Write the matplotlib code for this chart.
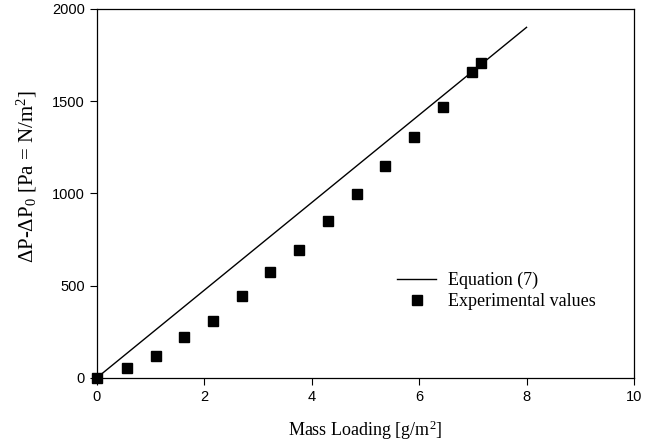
import matplotlib
matplotlib.use("Agg")
import matplotlib.pyplot as plt

plt.rcParams['font.family'] = 'sans-serif'
plt.rcParams['font.sans-serif'] = ['Liberation Sans', 'Arial', 'DejaVu Sans']
plt.rcParams['mathtext.default'] = 'regular'

mass_loading = [0.0, 0.56, 1.10, 1.62, 2.16, 2.70, 3.22, 3.76, 4.30, 4.84, 5.36, 5.90, 6.44, 6.98, 7.15]
delta_p = [0, 54, 119, 222, 308, 443, 573, 692, 849, 995, 1151, 1308, 1470, 1659, 1708]

# Equation (7) line
eq_x = [0.0, 8.0]
eq_y = [0, 1900]

x_ticks = [0, 2, 4, 6, 8, 10]
y_ticks = [0, 500, 1000, 1500, 2000]

fig = plt.figure(figsize=(6.59, 4.45), dpi=100)
ax = fig.add_axes([0.147, 0.151, 0.815, 0.829])

ax.plot(eq_x, eq_y, color="black", linewidth=1.0, label="Equation (7)")
ax.plot(mass_loading, delta_p, linestyle="none", marker="s", markersize=7,
        color="black", label="Experimental values", clip_on=False, zorder=5)

ax.set_xlim(0, 10)
ax.set_ylim(0, 2000)
ax.set_xticks(x_ticks)
ax.set_yticks(y_ticks)
ax.tick_params(direction="out", length=5, width=0.8, labelsize=10.5, top=False, right=False)
for sp in ax.spines.values():
    sp.set_linewidth(0.9)

ax.set_xlabel("Mass Loading [g/m$^2$]", family='Liberation Serif', size=13, labelpad=11)
ax.set_ylabel("ΔP-ΔP$_0$ [Pa = N/m$^2$]", family='Liberation Serif', size=15)
ax.yaxis.set_label_coords(-0.108, 0.545)

leg = ax.legend(loc="center left", bbox_to_anchor=(0.602, 0.346), bbox_transform=fig.transFigure,
                frameon=False, borderpad=0, borderaxespad=0,
                prop={'family': 'Liberation Serif', 'size': 13},
                handlelength=2.2, handletextpad=0.66, labelspacing=0.25)

fig.savefig("out.png", dpi=100)
